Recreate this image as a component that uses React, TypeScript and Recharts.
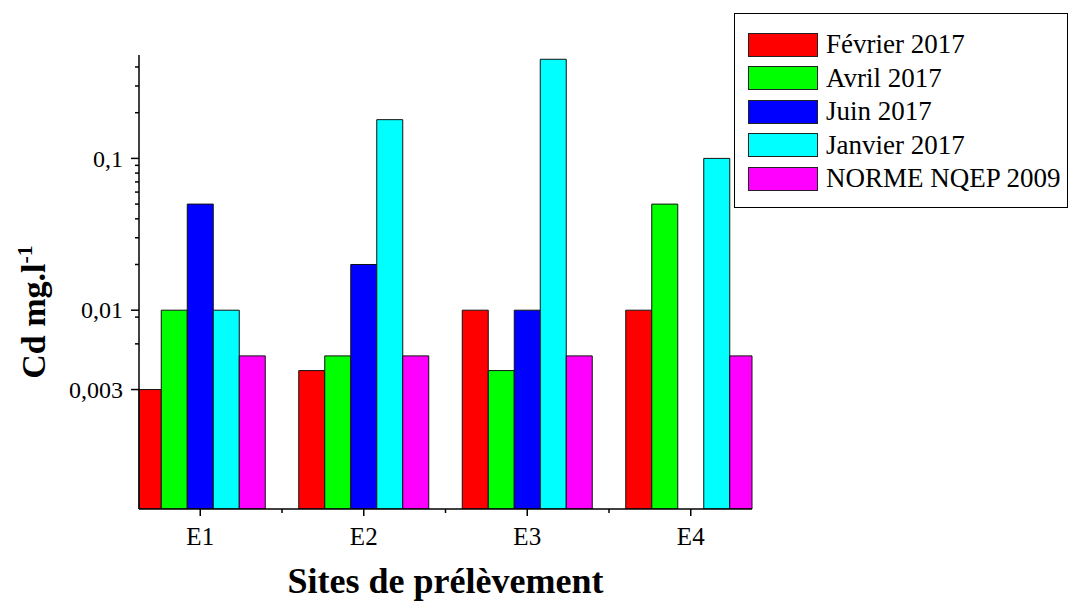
import { BarChart, Bar, XAxis, YAxis, Legend, Label, Rectangle } from "recharts";

const FONT = "'Liberation Serif', 'Times New Roman', serif";

const sites = ["E1", "E2", "E3", "E4"];
const fevrier2017 = [0.003, 0.004, 0.01, 0.01];
const avril2017 = [0.01, 0.005, 0.004, 0.05];
const juin2017 = [0.05, 0.02, 0.01, null];
const janvier2017 = [0.01, 0.18, 0.45, 0.1];
const normeNqep2009 = [0.005, 0.005, 0.005, 0.005];

const series = [
  { key: "fev", name: "Février 2017", color: "#ff0000", values: fevrier2017 },
  { key: "avr", name: "Avril 2017", color: "#00ff00", values: avril2017 },
  { key: "juin", name: "Juin 2017", color: "#0000ff", values: juin2017 },
  { key: "jan", name: "Janvier 2017", color: "#00ffff", values: janvier2017 },
  { key: "norme", name: "NORME NQEP 2009", color: "#ff00ff", values: normeNqep2009 },
];

const yMajorTicks = [0.003, 0.01, 0.1];
const yMajorLabels = ["0,003", "0,01", "0,1"];
const yMinorTicks = [0.006, 0.009, 0.02, 0.03, 0.04, 0.05, 0.06, 0.07, 0.08, 0.09, 0.2, 0.3, 0.4];

const data = sites.map((site, i) => {
  const row: Record<string, string | number | null> = { site };
  series.forEach((s) => (row[s.key] = s.values[i]));
  return row;
});

// layout
const W = 1076;
const H = 601;
const LEFT = 139;
const RIGHT = 752;
const TOP = 55;
const BOTTOM = 509;
const X_PAD = -20.5;
const BAND = (RIGHT - LEFT - 2 * X_PAD) / sites.length;

// bars of the outer groups run past the axis ends, clip them to the frame like the original
function ClippedBar(props: any) {
  const { x, y, width, height, fill, stroke, strokeWidth } = props;
  if (width == null || height == null) return null;
  const x0 = Math.max(x, LEFT);
  const x1 = Math.min(x + width, RIGHT);
  if (x1 <= x0) return null;
  return (
    <Rectangle x={x0} y={y} width={x1 - x0} height={height} fill={fill} stroke={stroke} strokeWidth={strokeWidth} />
  );
}

function YTick(props: any) {
  const { x, y, payload } = props;
  const axisX = x + 16;
  const idx = yMajorTicks.indexOf(payload.value);
  const major = idx >= 0;
  return (
    <g>
      <line x1={axisX - (major ? 8 : 4)} x2={axisX} y1={y} y2={y} stroke="#000" strokeWidth={1.5} />
      {major && (
        <text x={axisX - 16} y={y} dy="0.34em" textAnchor="end" fontFamily={FONT} fontSize={24} fill="#000">
          {yMajorLabels[idx]}
        </text>
      )}
    </g>
  );
}

function XTick(props: any) {
  const { x, y, payload, index } = props;
  const axisY = y - 11;
  return (
    <g>
      <line x1={x} x2={x} y1={axisY} y2={axisY + 7} stroke="#000" strokeWidth={1.5} />
      {index < sites.length - 1 && (
        <line x1={x + BAND / 2} x2={x + BAND / 2} y1={axisY} y2={axisY + 4} stroke="#000" strokeWidth={1.5} />
      )}
      <text x={x} y={axisY + 36} textAnchor="middle" fontFamily={FONT} fontSize={25} fill="#000">
        {payload.value}
      </text>
    </g>
  );
}

function LegendBox() {
  return (
    <div
      style={{
        width: 334,
        height: 195,
        boxSizing: "border-box",
        border: "1.5px solid #000",
        background: "#fff",
        padding: "14px 0 0 13px",
        fontFamily: FONT,
        fontSize: 27,
        color: "#000",
      }}
    >
      {series.map((s) => (
        <div key={s.key} style={{ display: "flex", alignItems: "center", height: 33.5, whiteSpace: "nowrap" }}>
          <span
            style={{
              display: "inline-block",
              width: 70,
              height: 24,
              boxSizing: "border-box",
              background: s.color,
              border: "1px solid #222",
              marginRight: 8,
              flexShrink: 0,
            }}
          />
          {s.name}
        </div>
      ))}
    </div>
  );
}

export default function App() {
  return (
    <div style={{ position: "absolute", left: 0, top: 0, width: W, height: H, background: "#fff" }}>
      <BarChart
        width={W}
        height={H}
        data={data}
        margin={{ top: TOP, right: W - RIGHT, bottom: 0, left: 0 }}
        barCategoryGap="10.25%"
        barGap={0}
      >
        <XAxis
          dataKey="site"
          type="category"
          height={H - BOTTOM}
          padding={{ left: X_PAD, right: X_PAD }}
          interval={0}
          axisLine={{ stroke: "#000", strokeWidth: 1.5 }}
          tickLine={false}
          tickSize={7}
          tickMargin={4}
          tick={<XTick />}
        >
          <Label
            content={(p: any) => (
              <text
                x={p.viewBox.x + p.viewBox.width / 2}
                y={p.viewBox.y + 84}
                textAnchor="middle"
                fontFamily={FONT}
                fontSize={36}
                fontWeight="bold"
                fill="#000"
              >
                Sites de prélèvement
              </text>
            )}
          />
        </XAxis>
        <YAxis
          type="number"
          scale="log"
          domain={[0.00049, 0.48]}
          allowDataOverflow
          width={LEFT}
          ticks={[...yMajorTicks, ...yMinorTicks]}
          interval={0}
          axisLine={{ stroke: "#000", strokeWidth: 1.5 }}
          tickLine={false}
          tickSize={8}
          tickMargin={8}
          tick={<YTick />}
        >
          <Label
            content={(p: any) => {
              const cx = 45;
              const cy = p.viewBox.y + 257;
              return (
                <text
                  x={cx}
                  y={cy}
                  transform={`rotate(-90 ${cx} ${cy})`}
                  textAnchor="middle"
                  fontFamily={FONT}
                  fontSize={34}
                  fontWeight="bold"
                  fill="#000"
                >
                  Cd mg.l
                  <tspan dy={-13} fontSize={22}>
                    -1
                  </tspan>
                </text>
              );
            }}
          />
        </YAxis>
        <Legend
          layout="vertical"
          align="center"
          verticalAlign="middle"
          content={<LegendBox />}
          wrapperStyle={{ position: "absolute", left: 734, top: 13, width: 334, height: 195 }}
        />
        {series.map((s) => (
          <Bar
            key={s.key}
            dataKey={s.key}
            name={s.name}
            fill={s.color}
            stroke="#111"
            strokeWidth={1}
            shape={<ClippedBar />}
            isAnimationActive={false}
          />
        ))}
      </BarChart>
    </div>
  );
}
